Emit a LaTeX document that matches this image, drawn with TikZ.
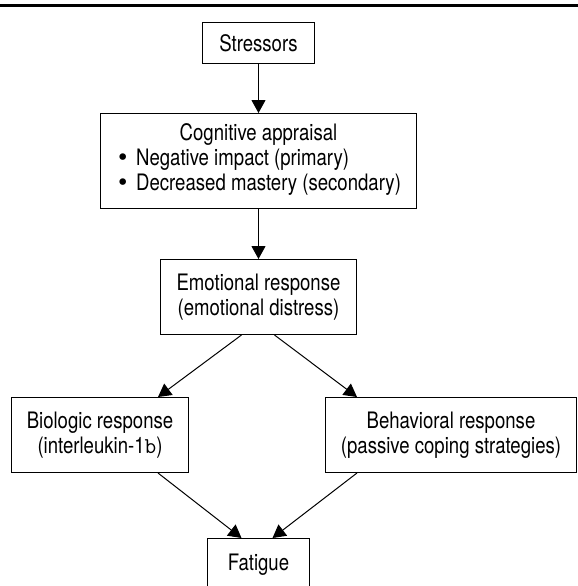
\documentclass[tikz,border=0pt]{standalone}
\usepackage{fontspec}
\setmainfont{TeX Gyre Heros}[FakeStretch=0.82]
\newfontfamily\bulletfont{DejaVu Sans}
\usepackage{tikz}
\usetikzlibrary{arrows.meta, positioning, calc}

\newcommand{\itembullet}{{\bulletfont\char"2022}\hspace{0.3em}}

\begin{document}
\begin{tikzpicture}[
  x=0.02cm, y=-0.02cm,
  box/.style={rectangle, draw, line width=0.02cm, inner sep=0pt, align=center, font=\fontsize{12.9}{14.2}\selectfont},
  arrow/.style={-{Triangle[length=0.26cm, width=0.28cm]}, line width=0.02cm}
]
  \useasboundingbox (0,0) rectangle (578,586);

  % Top rule
  \draw[line width=0.06cm] (0,5.5) -- (578,5.5);

  % Stressors and appraisal
  \node[box, minimum width=2.24cm, minimum height=0.82cm] (stress) at (258.5,43) {Stressors};
  \node[box, minimum width=6.32cm, minimum height=1.9cm] (appraisal) at (258.5,161) {Cognitive appraisal\\
    \begin{tabular}[t]{@{}l@{}}
      \itembullet Negative impact (primary)\\
      \itembullet Decreased mastery (secondary)
    \end{tabular}};

  % Emotional response
  \node[box, minimum width=3.92cm, minimum height=1.5cm] (emotion) at (258.5,297) {Emotional response\\(emotional distress)};

  % Responses
  \node[box, minimum width=3.54cm, minimum height=1.5cm] (biologic) at (100,435) {Biologic response\\(interleukin-1{\ttfamily b})};
  \node[box, minimum width=5.02cm, minimum height=1.5cm] (behavior) at (451,435) {Behavioral response\\(passive coping strategies)};

  % Outcome
  \node[box, minimum width=2.04cm, minimum height=1.06cm] (fatigue) at (258.5,565) {Fatigue};

  % Arrows
  \draw[arrow] (stress) -- (appraisal);
  \draw[arrow] (appraisal) -- (emotion);
  \draw[arrow] ($(emotion.south)+(-17,0)$) -- ($(biologic.north)+(58,0)$);
  \draw[arrow] ($(emotion.south)+(16,0)$) -- ($(behavior.north)+(-94,0)$);
  \draw[arrow] ($(biologic.south)+(58,0)$) -- ($(fatigue.north)+(-17,0)$);
  \draw[arrow] ($(behavior.south)+(-94,0)$) -- ($(fatigue.north)+(14,0)$);
\end{tikzpicture}
\end{document}
